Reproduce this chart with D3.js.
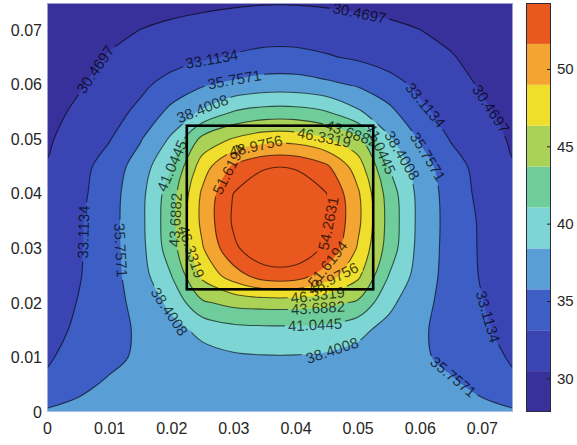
<!DOCTYPE html>
<html><head><meta charset="utf-8">
<script src="https://cdn.jsdelivr.net/npm/d3@7"></script>
<style>
html,body{margin:0;padding:0;background:#fff;}
svg{display:block;font-family:"Liberation Sans",Arial,Helvetica,sans-serif;}
</style></head><body>
<svg id="chart" width="577" height="445"></svg>
<script>
// ---------------- data ----------------
const gridX = [0,0.005,0.01,0.015,0.02,0.025,0.03,0.035,0.04,0.045,0.05,0.055,0.06,0.065,0.07,0.075];
const gridY = [0.075,0.07,0.065,0.06,0.055,0.05,0.045,0.04,0.035,0.03,0.025,0.02,0.015,0.01,0.005,0]; // top -> bottom
const temperature = [
 [28.0,28.5,28.95,29.4,29.7,29.95,30.2,30.35,30.35,30.2,29.95,29.7,29.4,28.95,28.5,28.0],
 [28.3,29.0,29.85,30.5,31.0,31.4,31.7,31.9,31.9,31.7,31.4,31.0,30.5,29.85,29.0,28.3],
 [28.85,29.65,30.65,31.55,32.15,32.8,33.35,33.85,33.85,33.35,32.8,32.15,31.55,30.65,29.65,28.85],
 [29.4,30.2,31.45,32.6,34.0,35.5,36.3,36.95,36.95,36.3,35.5,34.0,32.6,31.45,30.2,29.4],
 [29.7,30.9,32.2,33.65,36.5,38.8,41.2,42.05,42.05,41.2,38.8,36.5,33.65,32.2,30.9,29.7],
 [30.15,31.6,32.95,35.55,38.8,44.5,46.6,47.95,47.95,46.6,44.5,38.8,35.55,32.95,31.6,30.15],
 [30.6,32.1,34.3,36.95,41.0,47.7,52.07,53.95,53.95,52.07,47.7,41.0,36.95,34.3,32.1,30.6],
 [30.8,32.4,34.65,37.55,42.5,49.44,54.31,56.74,56.74,54.31,49.44,42.5,37.55,34.65,32.4,30.8],
 [31.0,32.75,34.75,37.63,42.79,49.67,54.63,57.2,57.2,54.63,49.67,42.79,37.63,34.75,32.75,31.0],
 [31.2,32.8,34.74,37.5,42.5,48.75,53.76,56.2,56.2,53.76,48.75,42.5,37.5,34.74,32.8,31.2],
 [31.45,32.9,34.7,37.25,41.0,46.9,50.3,53.0,53.0,50.3,46.9,41.0,37.25,34.7,32.9,31.45],
 [31.8,33.2,34.72,36.6,39.0,43.3,44.4,44.7,44.7,44.4,43.3,39.0,36.6,34.72,33.2,31.8],
 [32.3,33.5,34.7,36.18,37.6,39.0,40.1,40.32,40.32,40.1,39.0,37.6,36.18,34.7,33.5,32.3],
 [32.8,34.1,35.15,36.15,37.15,37.6,38.0,38.2,38.2,38.0,37.6,37.15,36.15,35.15,34.1,32.8],
 [33.6,35.2,36.1,36.5,37.0,37.35,37.55,37.6,37.6,37.55,37.35,37.0,36.5,36.1,35.2,33.6],
 [36.1,36.4,36.6,36.85,37.0,37.1,37.2,37.25,37.25,37.2,37.1,37.0,36.85,36.6,36.4,36.1]
];
const levels = [30.4697,33.1134,35.7571,38.4008,41.0445,43.6882,46.3319,48.9756,51.6194,54.2631];
const colorMin = 27.826;
const bandColors = ["#38309b","#3b44b3","#3d5ec5","#5a9ed6","#7dd6d4","#6fcd9c","#a9d257","#efdf2c","#f4a431","#e9581f"];
const xTicks = [0,0.01,0.02,0.03,0.04,0.05,0.06,0.07];
const yTicks = [0,0.01,0.02,0.03,0.04,0.05,0.06,0.07];
const cbTicks = [30,35,40,45,50];
const heater = {x0:0.0225, x1:0.0525, y0:0.0225, y1:0.0525};
// contour label spots: [level index, x, y]
const labelSpots = [
 [0,0.0504,0.0737],[0,0.0074,0.0631],[0,0.0724,0.0563],
 [1,0.0266,0.0642],[1,0.0605,0.0559],[1,0.0063,0.0330],[1,0.0702,0.0172],
 [2,0.0303,0.0601],[2,0.0604,0.0462],[2,0.0121,0.0297],[2,0.0652,0.0062],
 [3,0.0251,0.0554],[3,0.0568,0.0468],[3,0.0201,0.0187],[3,0.0456,0.0123],
 [4,0.0206,0.0449],[4,0.0531,0.0480],[4,0.0431,0.0167],
 [5,0.0209,0.0352],[5,0.0488,0.0504],[5,0.0436,0.0191],
 [6,0.0447,0.0510],[6,0.0230,0.0293],[6,0.0436,0.0211],
 [7,0.0335,0.0493],[7,0.0455,0.0257],
 [8,0.0286,0.0449],[8,0.0443,0.0279],
 [9,0.0443,0.0348]
];

// ---------------- layout ----------------
const W = 577, H = 445;
const m = {l:47, r:513, t:3, b:412};
const x = d3.scaleLinear().domain([0,0.075]).range([m.l,m.r]);
const y = d3.scaleLinear().domain([0,0.075]).range([m.b,m.t]);
const svg = d3.select("#chart");
const defs = svg.append("defs");
defs.append("clipPath").attr("id","plotClip").append("rect")
  .attr("x",m.l).attr("y",m.t).attr("width",m.r-m.l).attr("height",m.b-m.t);
const mask = defs.append("mask").attr("id","labelMask").attr("maskUnits","userSpaceOnUse")
  .attr("x",0).attr("y",0).attr("width",W).attr("height",H);
mask.append("rect").attr("x",0).attr("y",0).attr("width",W).attr("height",H).attr("fill","#fff");

const nx = gridX.length, ny = gridY.length;
const stepX = gridX[1]-gridX[0], stepY = gridY[0]-gridY[1];
const gx = g => x(gridX[0] + (g-0.5)*stepX);
const gy = g => y(gridY[0] - (g-0.5)*stepY);
const values = temperature.flat();
const contours = d3.contours().size([nx,ny]).thresholds(levels)(values);

const closedLine = d3.line().curve(d3.curveCatmullRomClosed.alpha(0.5));
const openLine = d3.line().curve(d3.curveCatmullRom.alpha(0.5));

const gPlot = svg.append("g").attr("clip-path","url(#plotClip)");
gPlot.append("rect").attr("x",m.l).attr("y",m.t).attr("width",m.r-m.l).attr("height",m.b-m.t)
  .attr("fill",bandColors[0]);
const gFill = gPlot.append("g");
const gLines = gPlot.append("g").attr("mask","url(#labelMask)")
  .attr("fill","none").attr("stroke","#000").attr("stroke-opacity",0.62).attr("stroke-width",1.1);
const gLabels = gPlot.append("g");

const onFrame = p => p[0]===0 || p[0]===nx || p[1]===0 || p[1]===ny;
const toPx = p => [gx(p[0]), gy(p[1])];
const levelLines = levels.map(()=>[]);

contours.forEach((c,k)=>{
  let d = "";
  c.coordinates.forEach(poly=>poly.forEach(ring=>{
    const pts = ring.slice(0,-1);
    d += closedLine(pts.map(toPx));
    const fr = pts.map(onFrame);
    const n = pts.length;
    if (!fr.some(v=>v)) {
      const px = pts.map(toPx);
      gLines.append("path").attr("d", closedLine(px));
      levelLines[k].push(px.concat([px[0]]));
    } else {
      const s = fr.indexOf(true);
      const rot = pts.slice(s).concat(pts.slice(0,s));
      const rf = rot.map(onFrame);
      let i = 0;
      while (i < n) {
        if (rf[i] && i+1 < n && !rf[i+1]) {
          const run = [rot[i]];
          let j = i+1;
          while (j < n && !rf[j]) { run.push(rot[j]); j++; }
          run.push(rot[j % n]);
          const px = run.map(toPx);
          gLines.append("path").attr("d", openLine(px));
          levelLines[k].push(px);
          i = j;
        } else i++;
      }
    }
  }));
  gFill.insert("path").attr("d", d).attr("fill-rule","evenodd")
    .attr("fill", bandColors[Math.min(k+1, bandColors.length-1)]);
});

// ---------------- contour labels ----------------
function nearestOn(polys, px, py){
  let best = null;
  polys.forEach(pts=>{
    for (let i=0;i<pts.length-1;i++){
      const [ax,ay]=pts[i],[bx,by]=pts[i+1];
      const vx=bx-ax, vy=by-ay, L2=vx*vx+vy*vy;
      let t = L2 ? ((px-ax)*vx+(py-ay)*vy)/L2 : 0;
      t = Math.max(0,Math.min(1,t));
      const qx=ax+t*vx, qy=ay+t*vy, dd=(qx-px)**2+(qy-py)**2;
      if (!best || dd<best.d) best={d:dd,x:qx,y:qy,ang:Math.atan2(vy,vx)*180/Math.PI};
    }
  });
  return best;
}
const fmt = d3.format(".6~g");
labelSpots.forEach(([k,lx,ly])=>{
  const b = nearestOn(levelLines[k], x(lx), y(ly));
  if (!b) return;
  let a = b.ang;
  if (a > 90) a -= 180;
  if (a <= -90) a += 180;
  const cy = Math.max(b.y, m.t + 7);
  const tr = `translate(${b.x},${cy}) rotate(${a})`;
  const t = gLabels.append("text").attr("transform",tr)
    .attr("text-anchor","middle").attr("dy","0.35em")
    .attr("font-size",15).attr("fill","#000").attr("fill-opacity",0.72)
    .text(fmt(levels[k]));
  const w = t.node().getComputedTextLength();
  mask.append("rect").attr("transform",`translate(${b.x},${b.y}) rotate(${a})`).attr("x",-w/2-3).attr("y",-7).attr("width",w+6).attr("height",14).attr("fill","#000");
});

// heater rectangle
gPlot.append("rect")
  .attr("x",x(heater.x0)).attr("y",y(heater.y1))
  .attr("width",x(heater.x1)-x(heater.x0)).attr("height",y(heater.y0)-y(heater.y1))
  .attr("fill","none").attr("stroke","#000").attr("stroke-width",2.6);

// frame
svg.append("rect").attr("x",m.l+0.5).attr("y",m.t+0.5).attr("width",m.r-m.l-1).attr("height",m.b-m.t-1)
  .attr("fill","none").attr("stroke","#c9cde8").attr("stroke-opacity",0.7).attr("stroke-width",1);

// ---------------- axes ----------------
const styleAxis = g => {
  g.select(".domain").remove();
  g.selectAll("text").attr("font-size",16).attr("fill","#262626")
    .attr("font-family","'Liberation Sans',Arial,sans-serif");
};
svg.append("g").attr("transform",`translate(0,${m.b})`)
  .call(d3.axisBottom(x).tickValues(xTicks).tickSize(0).tickPadding(11).tickFormat(d3.format("~g")))
  .call(styleAxis);
svg.append("g").attr("transform",`translate(${m.l},0)`)
  .call(d3.axisLeft(y).tickValues(yTicks).tickSize(0).tickPadding(5).tickFormat(d3.format("~g")))
  .call(styleAxis);

// ---------------- colorbar ----------------
const cbX0 = 526, cbX1 = 551;
const cb = d3.scaleLinear().domain([colorMin, levels[levels.length-1]]).range([m.b, m.t]);
const bounds = [colorMin, ...levels];
const gCb = svg.append("g");
d3.range(bandColors.length).forEach(k=>{
  gCb.append("rect").attr("x",cbX0).attr("width",cbX1-cbX0)
    .attr("y",cb(bounds[k+1])).attr("height",cb(bounds[k])-cb(bounds[k+1]))
    .attr("fill",bandColors[k]);
});
gCb.append("rect").attr("x",cbX0+0.5).attr("y",m.t+0.5).attr("width",cbX1-cbX0-1).attr("height",m.b-m.t-1)
  .attr("fill","none").attr("stroke","#2a2a3a").attr("stroke-width",1);
svg.append("g").attr("transform",`translate(${cbX1},0)`)
  .call(d3.axisRight(cb).tickValues(cbTicks).tickSize(-4).tickPadding(6))
  .call(g=>{ g.select(".domain").remove();
    g.selectAll("line").attr("stroke","#222");
    g.selectAll("text").attr("font-size",15).attr("fill","#262626")
      .attr("font-family","'Liberation Sans',Arial,sans-serif"); });
</script>
</body></html>
